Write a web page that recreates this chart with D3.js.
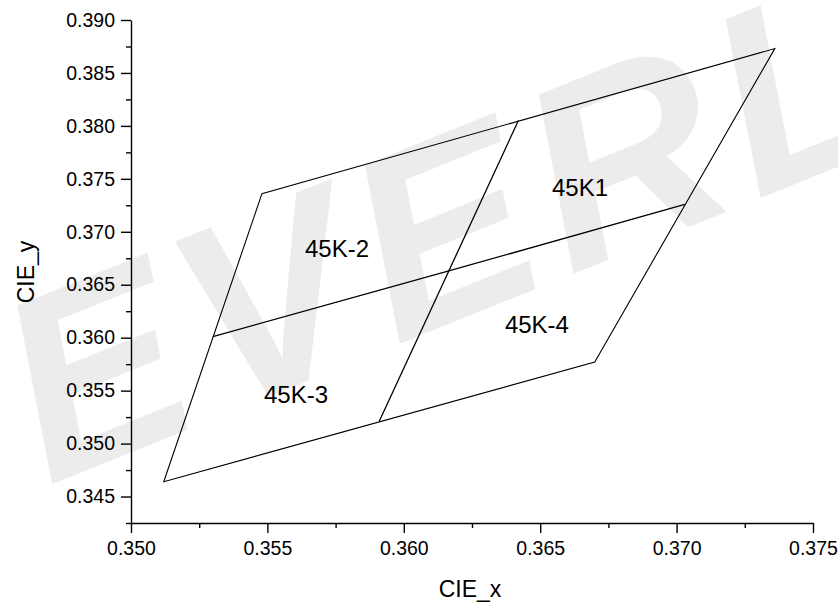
<!DOCTYPE html>
<html>
<head>
<meta charset="utf-8">
<script src="https://cdn.jsdelivr.net/npm/d3@7"></script>
<style>
  body { margin: 0; background: #fff; }
  svg { display: block; font-family: "Liberation Sans", Arial, sans-serif; }
</style>
</head>
<body>
<svg id="canvas" width="838" height="603"></svg>
<script>
(function() {
  var width = 838, height = 603

  // ANSI 4500K quadrangle, corner and mid points
  const outline = [[0.3512, 0.3464], [0.3548, 0.3736], [0.3736, 0.3873], [0.3670, 0.3577]]
  const midLR = [[0.3530, 0.3601], [0.36165, 0.3663], [0.3703, 0.3726]]
  const midTB = [[0.3642, 0.3805], [0.36165, 0.3663], [0.3591, 0.3521]]

  const binNames = ["45K1", "45K-2", "45K-4", "45K-3"]
  const binX = [0.36646, 0.35755, 0.36488, 0.35605]
  const binY = [0.37338, 0.36762, 0.36044, 0.35380]

  const xTicks = [0.350, 0.355, 0.360, 0.365, 0.370, 0.375]
  const xMinor = [0.3525, 0.3575, 0.3625, 0.3675, 0.3725]
  const yTicks = [0.345, 0.350, 0.355, 0.360, 0.365, 0.370, 0.375, 0.380, 0.385, 0.390]
  const yMinor = [0.3425, 0.3475, 0.3525, 0.3575, 0.3625, 0.3675, 0.3725, 0.3775, 0.3825, 0.3875]

  var x = d3.scaleLinear().domain([0.350, 0.375]).range([131, 813])
  var y = d3.scaleLinear().domain([0.3425, 0.390]).range([523, 20])

  const svg = d3.select("#canvas")

  // watermark (logo text, cut at the right edge like the original)
  svg.append("text")
    .attr("transform", "translate(48,486) rotate(-22)")
    .attr("font-size", 260)
    .attr("font-weight", "bold")
    .attr("font-style", "italic")
    .attr("letter-spacing", 14)
    .attr("fill", "#ececec")
    .text("EVERL")

  var line = d3.line().x(d => x(d[0])).y(d => y(d[1]))

  svg.append("path")
    .attr("d", line(outline) + "Z")
    .attr("fill", "none")
    .attr("stroke", "black")
    .attr("stroke-width", 1.1)

  svg.selectAll(".mid")
    .data([midLR, midTB])
    .join("path")
    .attr("class", "mid")
    .attr("d", line)
    .attr("fill", "none")
    .attr("stroke", "black")
    .attr("stroke-width", 1.3)

  svg.selectAll(".bin")
    .data(binNames)
    .join("text")
    .attr("class", "bin")
    .attr("x", (d, i) => x(binX[i]))
    .attr("y", (d, i) => y(binY[i]))
    .attr("text-anchor", "middle")
    .attr("font-size", 24)
    .text(d => d)

  // axes
  svg.append("g").attr("transform", "translate(0,523)")
    .call(d3.axisBottom(x).tickValues(xTicks).tickFormat(d3.format(".3f"))
      .tickSize(10).tickSizeOuter(0).tickPadding(8))
  svg.append("g").attr("transform", "translate(0,523)")
    .call(d3.axisBottom(x).tickValues(xMinor).tickFormat("").tickSize(5).tickSizeOuter(0))
    .select(".domain").remove()

  svg.append("g").attr("transform", "translate(131,0)")
    .call(d3.axisLeft(y).tickValues(yTicks).tickFormat(d3.format(".3f"))
      .tickSize(10).tickSizeOuter(0).tickPadding(6))
  svg.append("g").attr("transform", "translate(131,0)")
    .call(d3.axisLeft(y).tickValues(yMinor).tickFormat("").tickSize(5).tickSizeOuter(0))
    .select(".domain").remove()

  svg.selectAll(".domain, .tick line").attr("stroke", "black").attr("stroke-width", 1.4)
  svg.selectAll(".tick text")
    .attr("font-size", 19.5)
    .attr("font-family", "Liberation Sans, Arial, sans-serif")
    .attr("fill", "black")

  svg.append("text")
    .attr("x", 470).attr("y", 597)
    .attr("text-anchor", "middle")
    .attr("font-size", 23)
    .text("CIE_x")

  svg.append("text")
    .attr("transform", "translate(34,272) rotate(-90)")
    .attr("text-anchor", "middle")
    .attr("font-size", 23)
    .text("CIE_y")
})();
</script>
</body>
</html>
